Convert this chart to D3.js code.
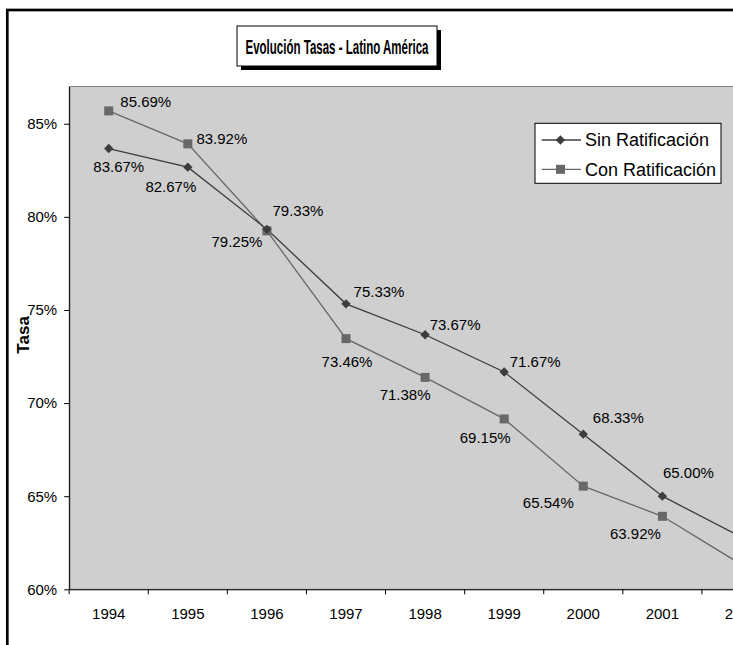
<!DOCTYPE html>
<html>
<head>
<meta charset="utf-8">
<script src="https://cdn.jsdelivr.net/npm/d3@7"></script>
<style>
  body { margin: 0; background: #fff; }
  svg { display: block; font-family: "Liberation Sans", Arial, sans-serif; }
</style>
</head>
<body>
<svg width="733" height="645"></svg>
<script>
// data
const years = ["1994", "1995", "1996", "1997", "1998", "1999", "2000", "2001", "2002"];
const sinRatif = [0.8367, 0.8267, 0.7933, 0.7533, 0.7367, 0.7167, 0.6833, 0.6500, 0.6280];
const conRatif = [0.8569, 0.8392, 0.7925, 0.7346, 0.7138, 0.6915, 0.6554, 0.6392, 0.6133];
const yTicks = [0.60, 0.65, 0.70, 0.75, 0.80, 0.85];
const seriesNames = ["Sin Ratificación", "Con Ratificación"];

// label placement (label center offset from the point, baseline offset)
const sinLabelOff = [[10, 23], [-17, 25], [31, -13], [33, -7], [30, -5], [31, -5], [35, -11], [26, -18]];
const conLabelOff = [[37, -4], [34, 0], [-30, 16], [1, 28], [-20, 23], [-19, 24], [-35, 22], [-27, 23]];

const plotLeft = 69.2, plotTop = 86.5, plotBottom = 589.3, band = 79.09;
const plotRight = plotLeft + band * years.length;

const svg = d3.select("svg");

// outer chart border
svg.append("rect")
    .attr("x", 7.3).attr("y", 10)
    .attr("width", 800).attr("height", 700)
    .attr("fill", "#fff")
    .attr("stroke", "#000")
    .attr("stroke-width", 2.7);

const x = d3.scaleBand()
    .domain(years)
    .range([plotLeft, plotRight]);

const y = d3.scaleLinear()
    .domain([0.60, 0.87])
    .range([plotBottom, plotTop]);

// plot area
svg.append("rect")
    .attr("x", plotLeft).attr("y", plotTop)
    .attr("width", plotRight - plotLeft).attr("height", plotBottom - plotTop)
    .attr("fill", "#cfcfcf")
    .attr("stroke", "#808080")
    .attr("stroke-width", 1);

// Y axis
const yAxis = svg.append("g")
    .attr("transform", `translate(${plotLeft},0)`)
    .call(d3.axisLeft(y).tickValues(yTicks).tickSize(5).tickSizeOuter(0).tickPadding(7)
        .tickFormat(d3.format(".0%")));
yAxis.selectAll("text").attr("font-size", "15px").attr("fill", "#000").attr("font-family", null);
yAxis.select(".domain").attr("stroke", "#000");

// X axis (labels centred in categories, ticks between)
const xAxis = svg.append("g")
    .attr("transform", `translate(0,${plotBottom})`)
    .call(d3.axisBottom(x).tickSize(0).tickSizeOuter(0).tickPadding(19));
xAxis.selectAll("text").attr("font-size", "15px").attr("fill", "#000").attr("font-family", null);
xAxis.select(".domain").attr("stroke", "#000");
xAxis.selectAll(".sep")
    .data(years)
    .enter().append("line")
    .attr("x1", d => x(d)).attr("x2", d => x(d))
    .attr("y1", 0).attr("y2", 5)
    .attr("stroke", "#000");

// Y label
svg.append("text")
    .attr("transform", `translate(29,${(plotTop + plotBottom) / 2 - 3}) rotate(-90)`)
    .attr("text-anchor", "middle")
    .attr("font-size", "17px")
    .attr("font-weight", "bold")
    .text("Tasa");

const line = d3.line()
    .x((d, i) => x(years[i]) + x.bandwidth() / 2)
    .y(d => y(d));

const sinColor = "#3c3c3c", conColor = "#686868";

// Con Ratificación
svg.append("path")
    .datum(conRatif)
    .attr("fill", "none")
    .attr("stroke", conColor)
    .attr("stroke-width", 1.3)
    .attr("d", line);

// Sin Ratificación
svg.append("path")
    .datum(sinRatif)
    .attr("fill", "none")
    .attr("stroke", sinColor)
    .attr("stroke-width", 1.3)
    .attr("d", line);

const diamond = d3.symbol().type(d3.symbolDiamond2).size(56);

svg.selectAll(".sqr")
    .data(conRatif)
    .enter().append("rect")
    .attr("x", (d, i) => x(years[i]) + x.bandwidth() / 2 - 4.5)
    .attr("y", d => y(d) - 4.5)
    .attr("width", 9).attr("height", 9)
    .attr("fill", conColor);

svg.selectAll(".dia")
    .data(sinRatif)
    .enter().append("path")
    .attr("d", diamond)
    .attr("transform", (d, i) => `translate(${x(years[i]) + x.bandwidth() / 2},${y(d)})`)
    .attr("fill", sinColor);

// data labels (only the points that fall inside the picture carry one)
const fmt = d3.format(".2%");
svg.selectAll(".sinLbl")
    .data(sinRatif.slice(0, sinLabelOff.length))
    .enter().append("text")
    .attr("x", (d, i) => x(years[i]) + x.bandwidth() / 2 + sinLabelOff[i][0])
    .attr("y", (d, i) => y(d) + sinLabelOff[i][1])
    .attr("text-anchor", "middle")
    .attr("font-size", "15px")
    .text(d => fmt(d));

svg.selectAll(".conLbl")
    .data(conRatif.slice(0, conLabelOff.length))
    .enter().append("text")
    .attr("x", (d, i) => x(years[i]) + x.bandwidth() / 2 + conLabelOff[i][0])
    .attr("y", (d, i) => y(d) + conLabelOff[i][1])
    .attr("text-anchor", "middle")
    .attr("font-size", "15px")
    .text(d => fmt(d));

// legend
const legend = svg.append("g").attr("transform", "translate(535,123.3)");
legend.append("rect")
    .attr("width", 186).attr("height", 60)
    .attr("fill", "#fff")
    .attr("stroke", "#000");
seriesNames.forEach((name, i) => {
    const ly = 16.7 + i * 29.3;
    const c = i === 0 ? sinColor : conColor;
    legend.append("line")
        .attr("x1", 6.7).attr("x2", 46)
        .attr("y1", ly).attr("y2", ly)
        .attr("stroke", c).attr("stroke-width", 1.3);
    if (i === 0) {
        legend.append("path")
            .attr("d", diamond)
            .attr("transform", `translate(25.4,${ly})`)
            .attr("fill", c);
    } else {
        legend.append("rect")
            .attr("x", 21).attr("y", ly - 4.5)
            .attr("width", 9).attr("height", 9)
            .attr("fill", c);
    }
    legend.append("text")
        .attr("x", 50).attr("y", ly + 6.5)
        .attr("font-size", "18px")
        .text(name);
});

// title box
const title = svg.append("g");
title.append("rect")
    .attr("x", 241).attr("y", 30)
    .attr("width", 200).attr("height", 40)
    .attr("fill", "#000");
title.append("rect")
    .attr("x", 237).attr("y", 26)
    .attr("width", 200).attr("height", 40)
    .attr("fill", "#fff")
    .attr("stroke", "#000");
title.append("text")
    .attr("x", 337).attr("y", 54)
    .attr("text-anchor", "middle")
    .attr("font-size", "21px")
    .attr("font-weight", "bold")
    .attr("textLength", 183)
    .attr("lengthAdjust", "spacingAndGlyphs")
    .text("Evolución Tasas - Latino América");
</script>
</body>
</html>
